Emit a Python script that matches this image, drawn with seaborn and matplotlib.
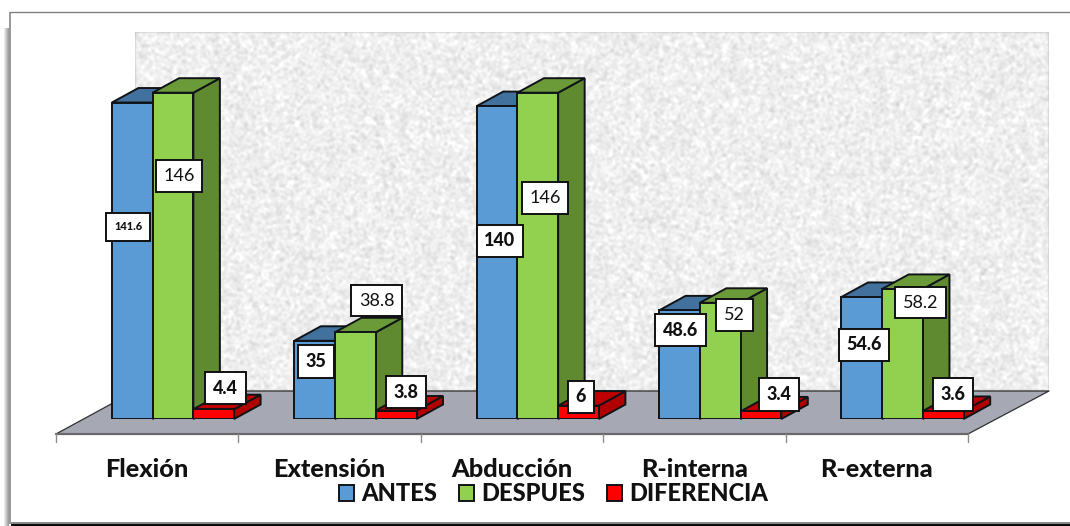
import numpy as np
import pandas as pd
import matplotlib
matplotlib.use("Agg")
import matplotlib.pyplot as plt
from matplotlib.patches import Polygon, Rectangle
from matplotlib.transforms import ScaledTranslation
import seaborn as sns

# ---- data ----
categories = ["Flexión", "Extensión", "Abducción", "R-interna", "R-externa"]
antes = [141.6, 35, 140, 48.6, 54.6]
despues = [146, 38.8, 146, 52, 58.2]
diferencia = [4.4, 3.8, 6, 3.4, 3.6]
series_names = ["ANTES", "DESPUES", "DIFERENCIA"]

# ---- styles ----
front_colors = ["#5B9BD5", "#92D050", "#FF0000"]
top_colors = ["#41719C", "#6B9A38", "#C00000"]
side_colors = ["#41719C", "#5F8A30", "#B00000"]

W, H = 1070, 526
sns.set_theme(style="white")
plt.rcParams["font.family"] = ["Lato", "DejaVu Sans"]

df = pd.DataFrame({
    "cat": categories * 3,
    "serie": sum([[n] * 5 for n in series_names], []),
    "valor": antes + despues + diferencia,
})

fig = plt.figure(figsize=(W / 100, H / 100), dpi=100, facecolor="white")

# pixel-coordinate backdrop
px = fig.add_axes([0, 0, 1, 1], zorder=0)
px.axis("off")

# card with soft shadow on the left, dark bottom edge
shadow = np.linspace(1.0, 0.62, 6)[None, :]
px.imshow(shadow, cmap="gray", vmin=0, vmax=1, extent=(3, 9, 526, 28),
          interpolation="bilinear", aspect="auto", zorder=0)
px.add_patch(Rectangle((9, 11.5), 2, 512, fc="#9A9A9A", ec="none"))
px.plot([10, 1070], [11.8, 11.8], color="#808080", lw=1.0)
px.add_patch(Rectangle((11, 521.5), W, 2, fc="#8A8A8A", ec="none"))
px.add_patch(Rectangle((11, 523.5), W, 3, fc="#0A0A0A", ec="none"))

# speckled wall (deterministic hash noise, box-smoothed)
yy, xx = np.mgrid[0:359, 0:914]
n = np.modf(np.sin(xx * 12.9898 + yy * 78.233) * 43758.5453)[0] % 1.0
kernel = np.ones(3) / 3
for _ in range(2):
    for axis in (0, 1):
        n = np.apply_along_axis(lambda m: np.convolve(m, kernel, mode="same"), axis, n)
tex = 238 + (n - n.mean()) / n.std() * 7
px.imshow(tex, cmap="gray", vmin=0, vmax=255, extent=(135, 1049, 391, 32),
          interpolation="bilinear", aspect="auto", zorder=1)
px.set_xlim(0, W)
px.set_ylim(H, 0)

# floor
px.add_patch(Polygon([(56, 434), (135, 391), (1049, 391), (968, 434)], closed=True,
                     fc="#A6A9B4", ec="none", zorder=2))
px.plot([56, 135, 1049, 968], [434, 391, 391, 434], color="#303030", lw=0.9, zorder=3)
px.plot([56, 968], [434, 434], color="#6A6A6A", lw=1.6, zorder=3)
for tick_x in np.linspace(56, 968, 6):
    px.plot([tick_x, tick_x], [434, 442], color="#8C8C8C", lw=1.0, zorder=3)

# main axes: y=0 at pixel 419, category spacing 182.4 px
PX_PER_UNIT = 2.235
left, right, top, bottom = 81.8, 993.8, 32, 419
ax = fig.add_axes([left / W, 1 - bottom / H, (right - left) / W, (bottom - top) / H],
                  zorder=2, facecolor="none")
sns.barplot(data=df, x="cat", y="valor", hue="serie", palette=front_colors, width=0.67,
            gap=0, saturation=1, edgecolor="#101418", linewidth=1.4, ax=ax, legend=True)
ax.set_xlim(-0.5, 4.5)
ax.set_ylim(0, (bottom - top) / PX_PER_UNIT)
ax.set_xlabel("")
ax.set_ylabel("")
ax.set_yticks([])
for s in ax.spines.values():
    s.set_visible(False)
ax.tick_params(axis="x", length=0, pad=28)
shift = ScaledTranslation(-26 / 100, 0, fig.dpi_scale_trans)
for lab in ax.get_xticklabels():
    lab.set_fontsize(18.2)
    lab.set_fontweight("black")
    lab.set_color("#111111")
    lab.set_transform(lab.get_transform() + shift)

# extruded faces built from the bars seaborn drew
dx = 26.5 / 182.4
dy = 14.5 / PX_PER_UNIT
for i, cont in enumerate(ax.containers):
    for bar in cont:
        x0, x1 = bar.get_x(), bar.get_x() + bar.get_width()
        y1 = bar.get_height()
        bar.set_zorder(5 + 2 * i)
        ax.add_patch(Polygon([(x1, 0), (x1 + dx, dy), (x1 + dx, y1 + dy), (x1, y1)], closed=True,
                             fc=side_colors[i], ec="#101418", lw=1.4, zorder=4 + 2 * i, clip_on=False))
        ax.add_patch(Polygon([(x0, y1), (x0 + dx, y1 + dy), (x1 + dx, y1 + dy), (x1, y1)], closed=True,
                             fc=top_colors[i], ec="#101418", lw=1.4, zorder=4 + 2 * i, clip_on=False))

# value boxes
label_xy = [
    [(128, 227), (316, 361.5), (500, 241), (680.5, 330), (864, 345)],
    [(179, 176), (376.5, 300.5), (545, 198), (734.5, 315), (920.5, 302.5)],
    [(225.5, 388), (406, 392), (581, 397), (779, 394.5), (953, 394.5)],
]
series_values = [antes, despues, diferencia]
for i, vals in enumerate(series_values):
    for j, v in enumerate(vals):
        small = (i == 0 and j == 0)
        ax.text(label_xy[i][j][0], label_xy[i][j][1], f"{v:g}", transform=px.transData,
                ha="center", va="center", zorder=20, clip_on=False,
                fontsize=8 if small else 13, fontweight="normal" if i == 1 else "black",
                color="#111111",
                bbox=dict(boxstyle="square,pad=%s" % (0.75 if small else 0.42),
                          fc="white", ec="#101010", lw=1.4))

# legend
handles, labels = ax.get_legend_handles_labels()
ax.get_legend().remove()
leg = ax.legend(handles, labels, ncol=3, frameon=False, loc="center",
                bbox_to_anchor=(553.5 / W, 1 - 493.5 / H), bbox_transform=fig.transFigure,
                fontsize=17.1, handlelength=0.65, handleheight=0.65,
                handletextpad=0.3, columnspacing=0.9)
for t in leg.get_texts():
    t.set_fontweight("black")
    t.set_color("#111111")
leg.set_zorder(30)

fig.savefig("out.png", dpi=100)
